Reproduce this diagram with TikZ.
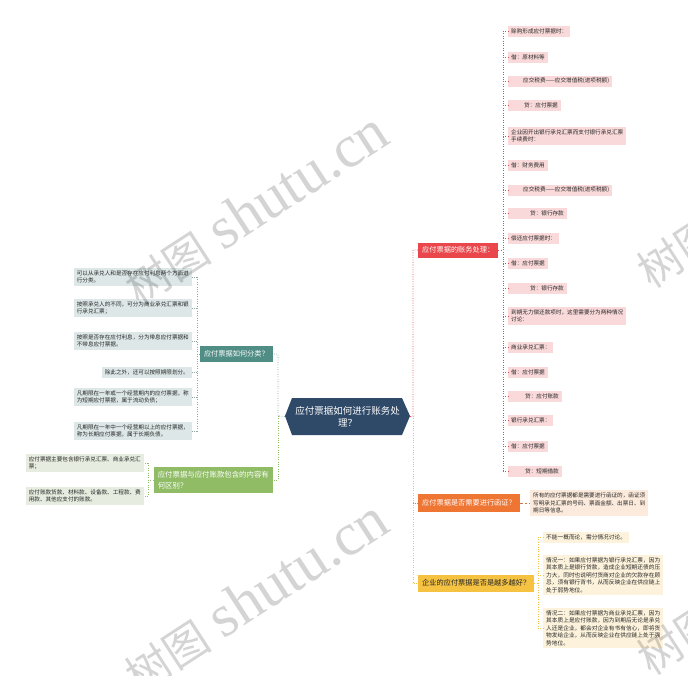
\documentclass[tikz,border=0pt]{standalone}
\usepackage{fontspec}
\setmainfont{Noto Sans CJK SC}
\newfontfamily\wmlatin{Liberation Serif}
\usetikzlibrary{calc}
\definecolor{cblue}{HTML}{2F4A68}
\definecolor{redm}{HTML}{E9474B}
\definecolor{redl}{HTML}{F9D9D9}
\definecolor{orgm}{HTML}{EF7533}
\definecolor{orgl}{HTML}{FCEBDC}
\definecolor{yelm}{HTML}{F5C242}
\definecolor{yell}{HTML}{FDF3DC}
\definecolor{tealm}{HTML}{4F8D85}
\definecolor{teall}{HTML}{DDE7E7}
\definecolor{grnm}{HTML}{8FBC65}
\definecolor{grnl}{HTML}{E6ECDF}
\definecolor{txtc}{HTML}{262626}
\definecolor{tealline}{HTML}{8FA9A6}
\tikzset{
  sb/.style={inner xsep=3pt, align=left, text=txtc, font=\fontsize{5.6}{7.5}\selectfont},
  one/.style={minimum height=11pt, inner ysep=1pt},
  multi/.style={inner ysep=2.6pt},
  rb/.style={sb, fill=redl, anchor=west},
  tb/.style={sb, fill=teall, anchor=east},
  gb/.style={sb, fill=grnl, anchor=east},
  ob/.style={sb, fill=orgl, anchor=west},
  yb/.style={sb, fill=yell, anchor=west, font=\fontsize{5.7}{7.5}\selectfont},
  mainb/.style={inner xsep=4pt, inner ysep=1pt, font=\fontsize{7.2}{9}\selectfont, align=left},
  ctext/.style={text=white, font=\fontsize{9.5}{12}\selectfont, align=center, inner sep=0pt},
  dotl/.style={line width=0.8pt, dash pattern=on 0.8pt off 1.6pt},
  reddot/.style={dotl, draw=redm},
  orgdot/.style={dotl, draw=orgm},
  yeldot/.style={dotl, draw=yelm},
  tealdot/.style={dotl, draw=tealline},
  grndot/.style={dotl, draw=grnm},
  orgdash/.style={line width=0.6pt, draw=orgm!70!gray, dash pattern=on 2.5pt off 2pt},
  wm/.style={text=black, text opacity=0.17, rotate=33, inner sep=0pt}
}
\newcommand{\wmtext}{{\fontsize{44}{44}\selectfont 树图}\hspace{12pt}{\wmlatin\fontsize{60}{60}\selectfont shutu.cn}}
\begin{document}
\begin{tikzpicture}[x=1pt,y=-1pt]
\useasboundingbox (0,0) rectangle (688,675);
\fill[white] (0,0) rectangle (688,675);

% center
\fill[cblue] (285,416) -- (292,398) -- (402,398) -- (410,416) -- (402,435) -- (292,435) -- cycle;
\node[ctext, minimum width=125pt, minimum height=37pt] (center) at (347.5,416.5) {应付票据如何进行账务处\\理？};

% main branches
\node[mainb, fill=redm, text=white, anchor=west, minimum height=15pt] (red) at (418,250) {应付票据的账务处理：};
\node[mainb, fill=orgm, text=white, anchor=west, minimum height=18pt] (orange) at (418,503) {应付票据是否需要进行函证？};
\node[mainb, fill=yelm, text=txtc, anchor=west, minimum height=17pt] (yellow) at (418,583) {企业的应付票据是否是越多越好？};
\node[mainb, fill=tealm, text=white, anchor=east, minimum height=16pt] (teal) at (273,354) {应付票据如何分类？};
\node[mainb, fill=grnm, text=white, anchor=east, minimum height=26pt, font=\fontsize{7.4}{10.5}\selectfont] (green) at (273,480) {应付票据与应付账款包含的内容有\\何区别？};

% red children
\node[rb, one] (r1) at (508,31) {赊购形成应付票据时：};
\node[rb, one] (r2) at (508,57) {借：原材料等};
\node[rb, one] (r3) at (508,81) {\hspace*{12pt}应交税费——应交增值税(进项税额)};
\node[rb, one] (r4) at (508,105) {\hspace*{13pt}贷：应付票据};
\node[rb, multi] (r5) at (508,136) {企业因开出银行承兑汇票而支付银行承兑汇票\\手续费时：};
\node[rb, one] (r6) at (508,165) {借：财务费用};
\node[rb, one] (r7) at (508,190) {\hspace*{12pt}应交税费——应交增值税(进项税额)};
\node[rb, one] (r8) at (508,213) {\hspace*{19pt}贷：银行存款};
\node[rb, one] (r9) at (508,238) {偿还应付票据时：};
\node[rb, one] (r10) at (508,263) {借：应付票据};
\node[rb, one] (r11) at (508,288) {\hspace*{19pt}贷：银行存款};
\node[rb, multi] (r12) at (508,316) {到期无力偿还款项时，这里需要分为两种情况\\讨论：};
\node[rb, one] (r13) at (508,347) {商业承兑汇票：};
\node[rb, one] (r14) at (508,372) {借：应付票据};
\node[rb, one] (r15) at (508,396) {\hspace*{14pt}贷：应付账款};
\node[rb, one] (r16) at (508,420) {银行承兑汇票：};
\node[rb, one] (r17) at (508,446) {借：应付票据};
\node[rb, one] (r18) at (508,471) {\hspace*{14pt}贷：短期借款};

% orange child
\node[ob, multi] (oc) at (530,503) {所有的应付票据都是需要进行函证的，函证须\\写明承兑汇票的号码、票面金额、出票日、到\\期日等信息。};

% yellow children
\node[yb, one] (y1) at (543,537) {不能一概而论，需分情况讨论。};
\node[yb, multi] (y2) at (543,575) {情况一：如果应付票据为银行承兑汇票，因为\\其本质上是银行贷款，造成企业短期还债的压\\力大，同时也说明付货商对企业的欠款存在顾\\忌，须有银行背书，从而反映企业在供应链上\\处于弱势地位。};
\node[yb, multi] (y3) at (543,628) {情况二：如果应付票据为商业承兑汇票，因为\\其本质上是应付账款，因为到期后无论是承兑\\人还是企业，都会对企业有书有信心，即将货\\物发给企业，从而反映企业在供应链上处于强\\势地位。};

% teal children
\node[tb, multi] (t1) at (192,277) {可以从承兑人和是否存在应付利息两个方面进\\行分类。};
\node[tb, multi] (t2) at (192,308) {按照承兑人的不同，可分为商业承兑汇票和银\\行承兑汇票；};
\node[tb, multi] (t3) at (192,341) {按照是否存在应付利息，分为带息应付票据和\\不带息应付票据。};
\node[tb, one] (t4) at (192,372) {除此之外，还可以按照期限划分。};
\node[tb, multi] (t5) at (192,397) {凡期限在一年或一个经营期内的应付票据，称\\为短期应付票据，属于流动负债；};
\node[tb, multi] (t6) at (192,431) {凡期限在一年中一个经营期以上的应付票据，\\称为长期应付票据，属于长期负债。};

% green children
\node[gb, multi] (g1) at (144,463) {应付票据主要包含银行承兑汇票、商业承兑汇\\票；};
\node[gb, multi] (g2) at (144,496) {应付账款货款、材料款、设备款、工程款、费\\用款、其他应支付的账款。};

% spine coordinates
\coordinate (msp) at (413,416);
\coordinate (rsp) at (503,250);
\coordinate (lsp) at (278,416);
\coordinate (tsp) at (197,354);
\coordinate (gsp) at (148,480);
\coordinate (ysp) at (538,583);

% right side connectors
\draw[reddot] (center.east) -- (msp) -- (msp |- red.west) -- (red.west);
\draw[orgdot] (msp) -- (msp |- orange.west) -- (orange.west);
\draw[yeldot] (msp) -- (msp |- yellow.west) -- (yellow.west);
\draw[reddot] (red.east) -- (rsp |- red.east);
\draw[reddot] (rsp |- r1.west) -- (rsp |- r18.west);
\foreach \i in {1,...,18} \draw[reddot] (rsp |- r\i.west) -- (r\i.west);
\draw[orgdash] (orange.east) -- (oc.west);
\draw[yeldot] (yellow.east) -- (ysp |- yellow.east);
\draw[yeldot] (ysp |- y1.west) -- (ysp |- y3.west);
\foreach \i in {1,2,3} \draw[yeldot] (ysp |- y\i.west) -- (y\i.west);

% left side connectors
\draw[tealdot] (center.west) -- (lsp) -- (lsp |- teal.east) -- (teal.east);
\draw[grndot] (lsp) -- (lsp |- green.east) -- (green.east);
\draw[tealdot] (teal.west) -- (tsp |- teal.west);
\draw[tealdot] (tsp |- t1.east) -- (tsp |- t6.east);
\foreach \i in {1,...,6} \draw[tealdot] (tsp |- t\i.east) -- (t\i.east);
\draw[grndot] (green.west) -- (gsp |- green.west);
\draw[grndot] (gsp |- g1.east) -- (gsp |- g2.east);
\foreach \i in {1,2} \draw[grndot] (gsp |- g\i.east) -- (g\i.east);

% watermarks
\begin{scope}
\clip (0,0) rectangle (688,675);
\node[wm] (wm1) at (256,208) {\wmtext};
\node[wm] (wm2) at (256,596) {\wmtext};
\node[wm] (wm3) at (768,191) {\wmtext};
\node[wm] (wm4) at (768,578) {\wmtext};
\end{scope}
\end{tikzpicture}
\end{document}
